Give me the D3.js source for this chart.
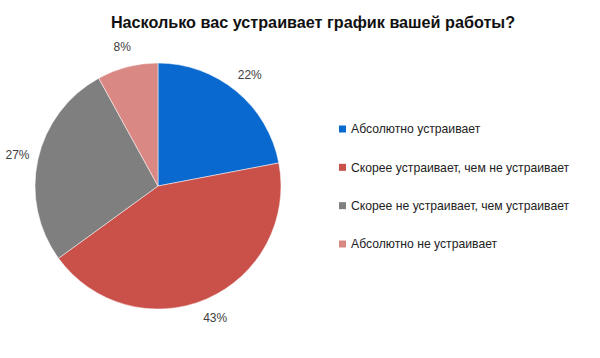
<!DOCTYPE html>
<html><head><meta charset="utf-8">
<script src="https://cdn.jsdelivr.net/npm/d3@7"></script>
<style>body{margin:0;background:#fff}</style>
</head><body>
<svg id="c" width="600" height="358"></svg>
<script>
const title = "Насколько вас устраивает график вашей работы?";
const categories = ["Абсолютно устраивает","Скорее устраивает, чем не устраивает","Скорее не устраивает, чем устраивает","Абсолютно не устраивает"];
const values = [22, 43, 27, 8];
const colors = ["#0a69cf","#c9514a","#7f7f7f","#d98883"];

const svg = d3.select("#c");
const font = "'Liberation Sans', Arial, sans-serif";
svg.append("text").attr("x",313).attr("y",28).attr("text-anchor","middle")
  .attr("font-family",font).attr("font-weight","bold").attr("font-size",16.2).attr("fill","#111")
  .text(title);

const cx=158, cy=186, r=123;
const pie = d3.pie().sort(null).value(d=>d);
const arcs = pie(values);
const arc = d3.arc().innerRadius(0).outerRadius(r);
const g = svg.append("g").attr("transform",`translate(${cx},${cy})`);
g.selectAll("path").data(arcs).enter().append("path")
  .attr("d",arc).attr("fill",(d,i)=>colors[i]).attr("stroke","#fff").attr("stroke-width",0.5);
const labelArc = d3.arc().innerRadius(r+21).outerRadius(r+21);
g.selectAll("text.l").data(arcs).enter().append("text")
  .attr("transform",d=>`translate(${labelArc.centroid(d)})`)
  .attr("text-anchor","middle").attr("dy","0.35em")
  .attr("font-family",font).attr("font-size",12).attr("fill","#404040")
  .text(d=>d.data+"%");

const leg = svg.append("g");
const ly = d3.scalePoint().domain(categories).range([129,244]);
categories.forEach((c,i)=>{
  leg.append("rect").attr("x",339).attr("y",ly(c)-3.5).attr("width",7).attr("height",7).attr("fill",colors[i]);
  leg.append("text").attr("x",351).attr("y",ly(c)).attr("dy","0.35em")
    .attr("font-family",font).attr("font-size",12.2).attr("fill","#222").text(c);
});
</script>
</body></html>
